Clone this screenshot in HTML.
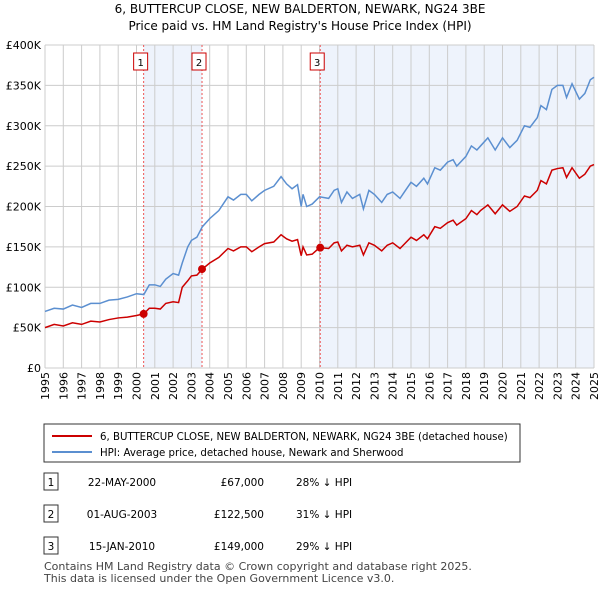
<!DOCTYPE html>
<html><head><meta charset="utf-8"><style>
body{margin:0;background:#fff;font-family:"Liberation Sans","DejaVu Sans",sans-serif;}
svg text{font-family:"DejaVu Sans","Liberation Sans",sans-serif;}
</style></head><body>
<svg id="c" width="600" height="590" xmlns="http://www.w3.org/2000/svg">
<text x="300" y="13" text-anchor="middle" font-size="12">6, BUTTERCUP CLOSE, NEW BALDERTON, NEWARK, NG24 3BE</text>
<text x="300" y="30" text-anchor="middle" font-size="12">Price paid vs. HM Land Registry's House Price Index (HPI)</text>
<g id="plot"></g>
<rect x="44" y="424" width="476" height="38" fill="#fff" stroke="#333"/>
<line x1="52" y1="436" x2="92" y2="436" stroke="#cc0000" stroke-width="2"/>
<text x="100" y="440" font-size="10.2">6, BUTTERCUP CLOSE, NEW BALDERTON, NEWARK, NG24 3BE (detached house)</text>
<line x1="52" y1="452" x2="92" y2="452" stroke="#5b8fd0" stroke-width="2"/>
<text x="100" y="456" font-size="10.2">HPI: Average price, detached house, Newark and Sherwood</text>
<g id="tbl" font-size="10.5"></g>
<text x="44" y="570" font-size="11" fill="#444">Contains HM Land Registry data © Crown copyright and database right 2025.</text>
<text x="44" y="582" font-size="11" fill="#444">This data is licensed under the Open Government Licence v3.0.</text>
</svg>
<script>
const hpiT=[1995,1995.5,1996,1996.5,1997,1997.5,1998,1998.5,1999,1999.5,2000,2000.4,2000.7,2001,2001.3,2001.6,2002,2002.3,2002.5,2002.8,2003,2003.3,2003.6,2004,2004.5,2005,2005.3,2005.7,2006,2006.3,2006.7,2007,2007.5,2007.9,2008.2,2008.5,2008.8,2009,2009.1,2009.3,2009.6,2010,2010.5,2010.8,2011,2011.2,2011.5,2011.8,2012.2,2012.4,2012.7,2013,2013.4,2013.7,2014,2014.4,2014.7,2015,2015.3,2015.7,2015.9,2016.3,2016.6,2017,2017.3,2017.5,2018,2018.3,2018.6,2018.8,2019.2,2019.6,2020,2020.4,2020.8,2021.2,2021.5,2021.9,2022.1,2022.4,2022.7,2023,2023.3,2023.5,2023.8,2024.2,2024.5,2024.8,2025];
const hpiV=[70,74,73,78,75,80,80,84,85,88,92,91,103,103,101,110,117,115,130,150,158,162,175,185,195,212,208,215,215,207,215,220,225,237,228,222,227,200,215,200,203,212,210,220,222,205,218,210,215,197,220,215,205,215,218,210,220,230,225,235,228,248,245,255,258,250,262,275,270,275,285,270,285,273,282,300,298,310,325,320,345,350,350,335,352,333,340,357,360];
const ppV=[50,54,52,56,54,58,57,60,62,63,65,67,74,74,73,80,82,81,100,108,114,115,122.5,130,137,148,145,150,150,144,150,154,156,165,160,157,159,139,150,140,141,149,148,155,156,145,152,150,152,140,155,152,145,152,155,148,155,162,158,165,160,175,173,180,183,177,185,195,190,195,202,191,202,194,200,213,211,220,232,228,245,247,248,236,248,235,240,250,252];
const saleDates=[2000.39,2003.58,2010.04];
const saleLabels=["1","2","3"];
const salePrices=[67,122.5,149];
const saleDateText=["22-MAY-2000","01-AUG-2003","15-JAN-2010"];
const salePriceText=["£67,000","£122,500","£149,000"];
const saleHpiText=["28% ↓ HPI","31% ↓ HPI","29% ↓ HPI"];
const yTicks=[0,50,100,150,200,250,300,350,400];
const yTickLabels=["£0","£50K","£100K","£150K","£200K","£250K","£300K","£350K","£400K"];
const NS="http://www.w3.org/2000/svg";
const L=45,R=594,T=45,B=368;
const X=t=>L+(t-1995)/30*(R-L), Y=v=>B-v/400*(B-T);
const g=document.getElementById('plot');
function mk(tag,a,p){const e=document.createElementNS(NS,tag);for(const k in a)e.setAttribute(k,a[k]);(p||g).appendChild(e);return e;}
let e;
e=mk('rect',{x:L,y:T,width:R-L,height:B-T,fill:'#fff'});


e=mk('rect',{x:X(saleDates[0]),y:T,width:X(saleDates[1])-X(saleDates[0]),height:B-T,fill:'#eef3fc'});


e=mk('rect',{x:X(saleDates[2]),y:T,width:R-X(saleDates[2]),height:B-T,fill:'#eef3fc'});


for(let yr=1995;yr<=2025;yr++){
 e=mk('line',{x1:X(yr),x2:X(yr),y1:T,y2:B,stroke:'#cccccc','stroke-width':1});
 
 
 e=mk('text',{transform:`translate(${X(yr)+4},${B+4}) rotate(-90)`,'text-anchor':'end','font-size':11});
 e.textContent=yr;
 
 
}
yTicks.forEach((v,i)=>{
 e=mk('line',{x1:L,x2:R,y1:Y(v),y2:Y(v),stroke:'#cccccc','stroke-width':1});
 
 
 e=mk('text',{x:L-4,y:Y(v)+4,'text-anchor':'end','font-size':11});
 e.textContent=yTickLabels[i];
 
 
});
saleDates.forEach((d,i)=>{
 e=mk('line',{x1:X(d),x2:X(d),y1:T,y2:B,stroke:'#ee5555','stroke-width':1,'stroke-dasharray':'2,2'});
 
 
 e=mk('rect',{x:X(d)-10,y:53,width:14,height:17,fill:'#fff',stroke:'#cc0000'});
 
 
 e=mk('text',{x:X(d)-3,y:66,'text-anchor':'middle','font-size':10});
 e.textContent=saleLabels[i];
 
 
});
e=mk('polyline',{points:hpiT.map((t,i)=>X(t)+','+Y(hpiV[i])).join(' '),fill:'none',stroke:'#5b8fd0','stroke-width':1.5});


e=mk('polyline',{points:hpiT.map((t,i)=>X(t)+','+Y(ppV[i])).join(' '),fill:'none',stroke:'#cc0000','stroke-width':1.5});


saleDates.forEach((d,i)=>{
 e=mk('circle',{cx:X(d),cy:Y(salePrices[i]),r:4,fill:'#cc0000'});
 
 
});
const tb=document.getElementById('tbl');
saleDates.forEach((d,i)=>{
 const y=482+i*32;
 e=mk('rect',{x:44,y:y-9,width:14,height:17,fill:'#fff',stroke:'#333'},tb);
 
 
 e=mk('text',{x:51,y:y+4,'text-anchor':'middle'},tb);e.textContent=saleLabels[i];
 
 
 e=mk('text',{x:122,y:y+4,'text-anchor':'middle'},tb);e.textContent=saleDateText[i];
 
 
 e=mk('text',{x:264,y:y+4,'text-anchor':'end'},tb);e.textContent=salePriceText[i];
 
 
 e=mk('text',{x:296,y:y+4},tb);e.textContent=saleHpiText[i];
 
 
});
</script>
</body></html>
